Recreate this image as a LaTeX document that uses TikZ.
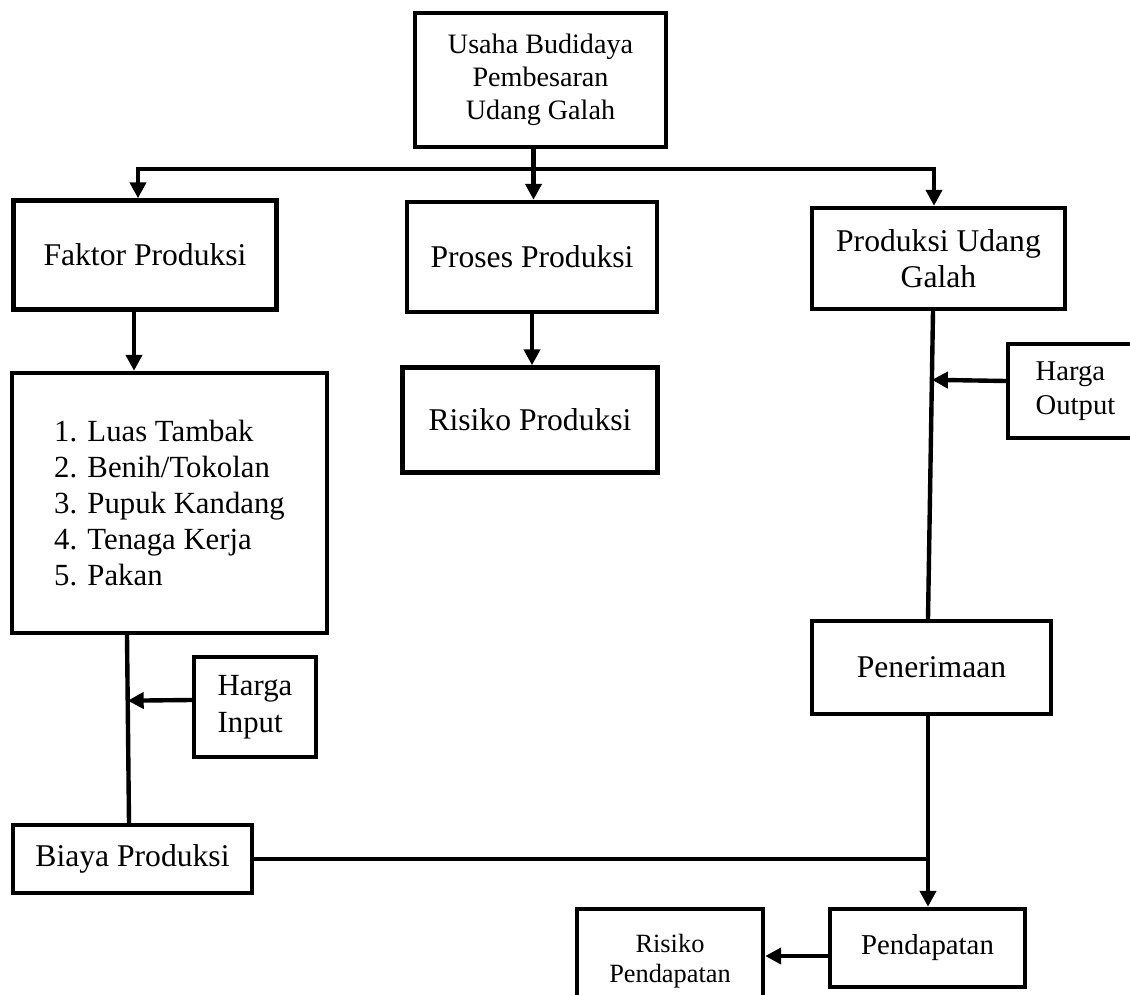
\documentclass[tikz,border=0pt]{standalone}
\usepackage{fontspec}
\setmainfont{Liberation Serif}
\usetikzlibrary{arrows.meta}
\usetikzlibrary{calc}
\pgfdeclarelayer{garis_layer}
\pgfdeclarelayer{skema}
\pgfsetlayers{garis_layer,skema,main}
\tikzstyle{kotak}=[draw=black,line width=2.5pt,inner sep=2pt,align=center,font=\fontsize{18}{21}\selectfont]
\tikzstyle{kotak_kiri}=[draw=black,line width=2.5pt,inner sep=2pt,align=left,font=\fontsize{17.5}{20.5}\selectfont]
\tikzstyle{garis}=[draw,line width=2.5pt]
\tikzstyle{line}=[draw,line width=2.5pt,-{Triangle[width=0.32cm,length=0.32cm]}]

\begin{document}
\begin{tikzpicture}
		\useasboundingbox (0,0) rectangle (22.6,-19.9);
		\begin{pgfonlayer}{skema}
			\node [style=kotak,minimum width=5.02cm,minimum height=2.68cm,font=\fontsize{16}{18.8}\selectfont] (usaha) at (10.81,-1.6) {Usaha Budidaya\\Pembesaran\\Udang Galah};
			\node [style=kotak,minimum width=5.26cm,minimum height=2.18cm] (faktor) at (2.9,-5.1) {Faktor Produksi};
			\node [style=kotak,minimum width=5cm,minimum height=2.2cm] (proses) at (10.64,-5.14) {Proses Produksi};
			\node [style=kotak,minimum width=5.06cm,minimum height=2.02cm,font=\fontsize{18}{20.5}\selectfont] (produksi) at (18.77,-5.17) {Produksi Udang\\Galah};
			\node [style=kotak_kiri,minimum width=6.3cm,minimum height=5.2cm] (daftar) at (3.39,-10.06) {1. Luas Tambak\\2. Benih/Tokolan\\3. Pupuk Kandang\\4. Tenaga Kerja\\5. Pakan};
			\node [style=kotak,minimum width=5.1cm,minimum height=2.1cm] (risikoprod) at (10.6,-8.4) {Risiko Produksi};
			\node [style=kotak_kiri,minimum width=2.7cm,minimum height=1.88cm,font=\fontsize{16.3}{19}\selectfont] (hargaout) at (21.51,-7.82) {Harga\\Output};
			\node [style=kotak,minimum width=4.78cm,minimum height=1.86cm] (penerimaan) at (18.63,-13.35) {Penerimaan};
			\node [style=kotak_kiri,minimum width=2.44cm,minimum height=2cm,font=\fontsize{17.5}{21}\selectfont] (hargain) at (5.1,-14.14) {Harga\\Input};
			\node [style=kotak,minimum width=4.78cm,minimum height=1.36cm] (biaya) at (2.65,-17.18) {Biaya Produksi};
			\node [style=kotak,minimum width=3.9cm,minimum height=1.56cm,font=\fontsize{16.4}{19}\selectfont] (pendapatan) at (18.55,-18.96) {Pendapatan};
			\node [style=kotak,minimum width=3.72cm,minimum height=2.1cm,font=\fontsize{15}{17}\selectfont] (risikopend) at (13.4,-19.23) {Risiko\\Pendapatan};
		\end{pgfonlayer}
		\begin{pgfonlayer}{garis_layer}
			\coordinate (cabang) at (10.67,-3.38);
			\coordinate (f_bawah) at ([xshift=-0.22cm]faktor.south);
			\coordinate (kanan_atas) at ([xshift=-0.11cm]produksi.south);
			\coordinate (kanan_bawah) at ([xshift=-0.07cm]penerimaan.north);
			\coordinate (ho) at ([yshift=0.2cm]hargaout.west);
			\coordinate (kiri_atas) at ([xshift=-0.85cm]daftar.south);
			\coordinate (kiri_bawah) at ([xshift=-0.07cm]biaya.north);
			\coordinate (hi) at ([yshift=0.14cm]hargain.west);
			\coordinate (p_bawah) at ([xshift=-0.07cm]penerimaan.south);
			\coordinate (pd) at ([yshift=-0.16cm]pendapatan.west);
			\path [style=garis] (usaha.south -| cabang) -- (cabang);
			\path [style=line] (cabang) -| ([xshift=-0.14cm]faktor.north);
			\path [style=line] (cabang) -- (cabang |- proses.north);
			\path [style=line] (cabang) -| ([xshift=-0.09cm]produksi.north);
			\path [style=line] (f_bawah) -- (f_bawah |- daftar.north);
			\path [style=line] (proses.south) -- (proses.south |- risikoprod.north);
			\path [style=garis] (kanan_atas) -- (kanan_bawah);
			\path [style=line] (ho) -- ($(kanan_atas)!(ho)!(kanan_bawah)$);
			\path [style=garis] (kiri_atas) -- (kiri_bawah);
			\path [style=line] (hi) -- ($(kiri_atas)!(hi)!(kiri_bawah)$);
			\path [style=line] (p_bawah) -- (p_bawah |- pendapatan.north);
			\path [style=garis] (biaya.east) -- (biaya.east -| p_bawah);
			\path [style=line] (pd) -- (pd -| risikopend.east);
		\end{pgfonlayer}
\end{tikzpicture}
\end{document}
